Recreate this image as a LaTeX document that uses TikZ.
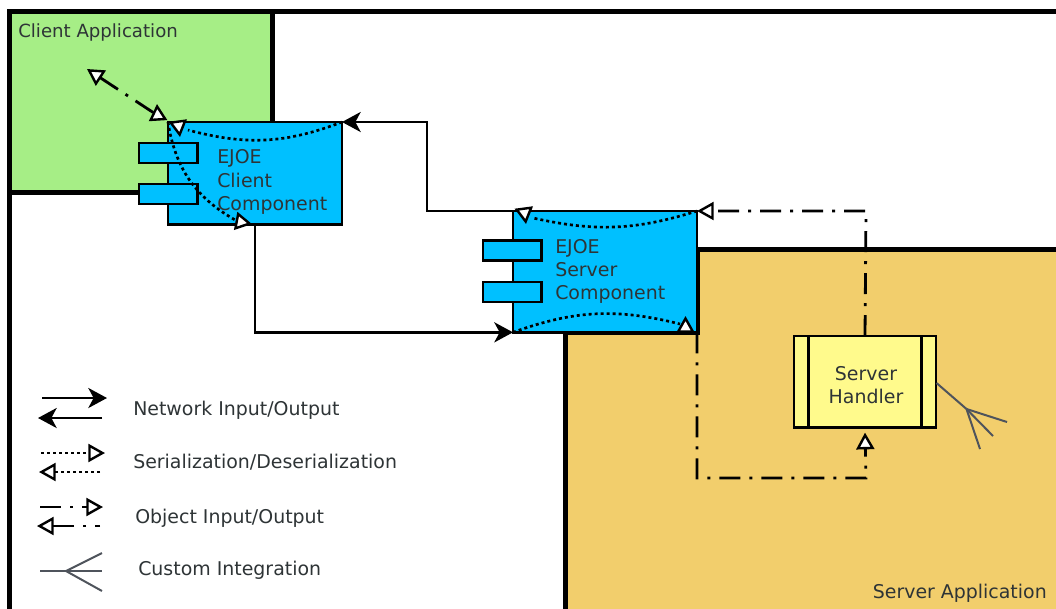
\documentclass[tikz,border=0pt]{standalone}
\usepackage{fontspec}
\setmainfont{DejaVu Sans}
\usepackage{tikz}
\usetikzlibrary{arrows.meta,positioning,calc}

\definecolor{clientgreen}{HTML}{A6EE86}
\definecolor{serverorange}{HTML}{F2CE6C}
\definecolor{compblue}{HTML}{00C0FF}
\definecolor{handleryellow}{HTML}{FFFA8C}
\definecolor{forkgray}{HTML}{4F545C}
\definecolor{labelgray}{HTML}{2E3436}

\tikzset{
  opentip/.tip={Triangle[fill=white,length=12.5pt,width=13.5pt,line width=1.8pt]},
  nettip/.tip={Stealth[length=14pt,width=15pt,inset=4pt]},
  lbl/.style={font=\fontsize{14.2}{16}\selectfont, text=labelgray, inner sep=0pt},
  region/.style={line width=3.75pt},
  compbox/.style={draw=black, line width=1.9pt, fill=compblue, anchor=north west, outer sep=0pt, inner sep=0pt},
  stub/.style={compbox, anchor=west, minimum width=44pt, minimum height=15pt},
  complbl/.style={lbl, anchor=base west},
  netarrow/.style={line width=2.1pt, -nettip},
  serline/.style={line width=2pt, dash pattern=on 2.25pt off 2.25pt},
  serarrow/.style={serline, -opentip},
  objline/.style={line width=2.1pt, dash pattern=on 15.75pt off 6.75pt on 2.25pt off 6.75pt},
  objarrow/.style={objline, -opentip},
  fork/.style={draw=forkgray, line width=1.5pt}
}

\begin{document}
\begin{tikzpicture}[x=0.75pt,y=-0.75pt]
\useasboundingbox (0,0) rectangle (1056,608);
\fill[white] (0,0) rectangle (1056,608);

% application regions
\draw[region, fill=white] (9.5,11.5) rectangle (1070,620);
\draw[region, fill=clientgreen] (9.5,11.5) rectangle (272,192.5);
\draw[region, fill=serverorange] (565,620) -- (565,332) -- (697,332) -- (697,249) -- (1070,249) -- (1070,620) -- cycle;
\node[lbl, anchor=base west, font=\fontsize{13.6}{16}\selectfont] (clientapp) at (18,37) {Client Application};
\node[lbl, anchor=base east] (serverapp) at (1047,598) {Server Application};

% components
\node[compbox, minimum width=130.5pt, minimum height=77pt] (client) at (168,122) {};
\node[compbox, minimum width=138pt, minimum height=91pt] (server) at (513,211) {};
\foreach \n/\x/\y in {clientA/139/153,clientB/139/194,serverA/483/250.5,serverB/483/292} {
  \node[stub] (\n) at (\x,\y) {};
}
\node[complbl] (clienttxt1) at (217,163) {EJOE};
\node[complbl] (clienttxt2) at (217,187) {Client};
\node[complbl] (clienttxt3) at (217,210) {Component};
\node[complbl] (servertxt1) at (555,253) {EJOE};
\node[complbl] (servertxt2) at (555,276) {Server};
\node[complbl] (servertxt3) at (555,299) {Component};

% handler
\node[compbox, fill=handleryellow, minimum width=106.5pt, minimum height=68.5pt] (handler) at (794,336) {};
\draw[line width=1.9pt] ([xshift=11pt]handler.north west) -- ([xshift=11pt]handler.south west);
\draw[line width=1.9pt] ([xshift=-11pt]handler.north east) -- ([xshift=-11pt]handler.south east);
\node[lbl, anchor=base] (handlertxt1) at (866,380) {Server};
\node[lbl, anchor=base] (handlertxt2) at (866,403) {Handler};

% network
\coordinate (clientout) at (255,225);
\draw[netarrow] (clientout) |- (server.south west);
\coordinate (serverup) at (427,211);
\draw[netarrow] (server.north west) -- (serverup) |- (client.north east);

% serialization
\coordinate (clientserA) at (188,130);
\coordinate (clientserB) at (237,221);
\coordinate (serverserA) at (533,218);
\coordinate (serverserB) at (680,324);
\draw[serline] (client.north east) to[bend left=18] (clientserA);
\draw[serline] (client.north west) to[bend right=26] (clientserB);
\draw[serline] (server.north east) to[bend left=15] (serverserA);
\draw[serline] (server.south west) to[bend left=17] (serverserB);
% tips stand at their own angle
\foreach \xa/\ya/\xb/\yb in {178/122/180/137,236/221/252/224,524/209/526/224,685.5/332/685.5/316} {
  \coordinate (tipfrom) at (\xa,\ya);
  \coordinate (tipto) at (\xb,\yb);
  \draw[line width=1.5pt, -opentip] (tipfrom) -- (tipto);
}

% object i/o
\coordinate (userend) at (87,69);
\coordinate (userstart) at (157,115);
\draw[objline, opentip-] (userend) -- (userstart);
\coordinate (usertipfrom) at (158,120);
\coordinate (usertipto) at (157,104);
\draw[line width=1.5pt, -opentip] (usertipfrom) -- (usertipto);
\coordinate (handlertop) at (866,211);
\coordinate (handlerlow) at (866,478);
\coordinate (serverlow) at (697,478);
\draw[objarrow] (handler.north) -- (handlertop) -- (server.north east);
\draw[objarrow] (server.south east) -- (serverlow) -- (handlerlow) -- ([yshift=-4pt]handler.south);

% custom integration
\coordinate (forkroot) at (966.5,409);
\coordinate (handlerfork) at (936.5,383);
\draw[fork] (handlerfork) -- (forkroot);
\foreach \n/\x/\y in {a/1007/422,b/993/436,c/980/449} {
  \coordinate (fork\n) at (\x,\y);
  \draw[fork] (forkroot) -- (fork\n);
}

% legend
\foreach \n/\s/\xa/\xb/\y in {neta/netarrow/42/107/398,netb/netarrow/102/38/418,sera/serarrow/41/105/453,serb/serarrow/100/39/472,obja/objarrow/40/103/507} {
  \coordinate (\n from) at (\xa,\y);
  \coordinate (\n to) at (\xb,\y);
  \draw[\s] (\n from) -- (\n to);
}
\coordinate (objbfrom) at (100,526);
\coordinate (objbto) at (37,526);
\draw[objarrow, dash phase=12pt] (objbfrom) -- (objbto);
\coordinate (legfork) at (66,571);
\coordinate (legforkin) at (40,571);
\draw[fork] (legforkin) -- (legfork);
\foreach \n/\y in {a/553,b/571,c/591} {
  \coordinate (legfork\n) at (102,\y);
  \draw[fork] (legfork) -- (legfork\n);
}
\node[lbl, anchor=base west] (legnet) at (133,415) {Network Input/Output};
\node[lbl, anchor=base west] (legser) at (133,468) {Serialization/Deserialization};
\node[lbl, anchor=base west] (legobj) at (135,523) {Object Input/Output};
\node[lbl, anchor=base west] (legfor) at (138,575) {Custom Integration};
\end{tikzpicture}
\end{document}
